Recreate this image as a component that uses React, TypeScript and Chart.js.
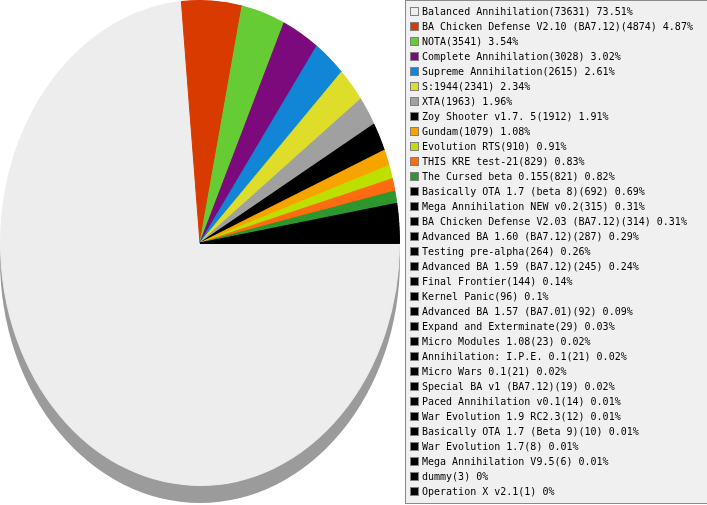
import React, { useEffect, useRef } from "react";
import { Chart, registerables } from "chart.js";

Chart.register(...registerables);

const labels: string[] = [
  "Balanced Annihilation",
  "BA Chicken Defense V2.10 (BA7.12)",
  "NOTA",
  "Complete Annihilation",
  "Supreme Annihilation",
  "S:1944",
  "XTA",
  "Zoy Shooter v1.7. 5",
  "Gundam",
  "Evolution RTS",
  "THIS KRE test-21",
  "The Cursed beta 0.155",
  "Basically OTA 1.7 (beta 8)",
  "Mega Annihilation NEW v0.2",
  "BA Chicken Defense V2.03 (BA7.12)",
  "Advanced BA 1.60 (BA7.12)",
  "Testing pre-alpha",
  "Advanced BA 1.59 (BA7.12)",
  "Final Frontier",
  "Kernel Panic",
  "Advanced BA 1.57 (BA7.01)",
  "Expand and Exterminate",
  "Micro Modules 1.08",
  "Annihilation: I.P.E. 0.1",
  "Micro Wars 0.1",
  "Special BA v1 (BA7.12)",
  "Paced Annihilation v0.1",
  "War Evolution 1.9 RC2.3",
  "Basically OTA 1.7 (Beta 9)",
  "War Evolution 1.7",
  "Mega Annihilation V9.5",
  "dummy",
  "Operation X v2.1",
];

const values: number[] = [
  73631, 4874, 3541, 3028, 2615, 2341, 1963, 1912, 1079, 910, 829, 821, 692,
  315, 314, 287, 264, 245, 144, 96, 92, 29, 23, 21, 21, 19, 14, 12, 10, 8, 6,
  3, 1,
];

const percents: string[] = [
  "73.51", "4.87", "3.54", "3.02", "2.61", "2.34", "1.96", "1.91", "1.08",
  "0.91", "0.83", "0.82", "0.69", "0.31", "0.31", "0.29", "0.26", "0.24",
  "0.14", "0.1", "0.09", "0.03", "0.02", "0.02", "0.02", "0.02", "0.01",
  "0.01", "0.01", "0.01", "0.01", "0", "0",
];

const colors: string[] = [
  "#ededed", "#d93a00", "#66cc33", "#7d0a7d", "#1185d6", "#dede2a",
  "#a0a0a0", "#000000", "#f7a300", "#bde000", "#ff6b11", "#2d962d",
  "#000000", "#000000", "#000000", "#000000", "#000000", "#000000",
  "#000000", "#000000", "#000000", "#000000", "#000000", "#000000",
  "#000000", "#000000", "#000000", "#000000", "#000000", "#000000",
  "#000000", "#000000", "#000000",
];

const W = 707;
const H = 505;

export default function App() {
  const ref = useRef<HTMLCanvasElement | null>(null);

  useEffect(() => {
    document.body.style.margin = "0";
    const canvas = ref.current;
    if (!canvas) return;

    const SY = 243 / 200;
    const CY = 243;
    const SHADOW = 14;

    const ellipsePlugin = {
      id: "ellipse3d",
      beforeDatasetsDraw(chart: any) {
        const ctx = chart.ctx as CanvasRenderingContext2D;
        const meta = chart.getDatasetMeta(0);
        const arc = meta.data[0] as any;
        const cx = arc.x;
        const cy = arc.y;
        const r = arc.outerRadius + 0.5;
        ctx.save();
        ctx.translate(0, CY);
        ctx.scale(1, SY);
        ctx.translate(0, -cy);
        ctx.beginPath();
        ctx.arc(cx, cy + SHADOW, r, 0, Math.PI * 2);
        ctx.fillStyle = "#9b9b9b";
        ctx.fill();
      },
      afterDatasetsDraw(chart: any) {
        chart.ctx.restore();
      },
      afterDraw(chart: any) {
        const ctx = chart.ctx as CanvasRenderingContext2D;
        const lbls = chart.data.labels as string[];
        const ds = chart.data.datasets[0];
        ctx.save();
        ctx.fillStyle = "#f0f0f0";
        ctx.fillRect(405.5, 0.5, 310, 503);
        ctx.strokeStyle = "#8a8a8a";
        ctx.lineWidth = 1;
        ctx.strokeRect(405.5, 0.5, 310, 503);
        ctx.font = "10px 'DejaVu Sans Mono', monospace";
        ctx.textBaseline = "middle";
        ctx.textAlign = "left";
        lbls.forEach((l, i) => {
          const cy = 12 + 15 * i;
          ctx.fillStyle = ds.backgroundColor[i];
          ctx.fillRect(410.5, cy - 4.5, 8, 8);
          ctx.strokeStyle = "#808080";
          ctx.strokeRect(410.5, cy - 4.5, 8, 8);
          ctx.fillStyle = "#000000";
          ctx.fillText(`${l}(${ds.data[i]}) ${percents[i]}%`, 422, cy + 0.5);
        });
        ctx.restore();
      },
    };

    const chart = new Chart(canvas, {
      type: "pie",
      data: {
        labels,
        datasets: [
          {
            data: values,
            backgroundColor: colors,
            borderColor: colors,
            borderWidth: 1,
          },
        ],
      },
      options: {
        responsive: false,
        animation: false,
        rotation: 90,
        layout: { padding: { left: 0, top: 0, right: 307, bottom: 105 } },
        plugins: {
          legend: { display: false },
          tooltip: { enabled: false },
        },
      },
      plugins: [ellipsePlugin],
    });

    return () => chart.destroy();
  }, []);

  return (
    <div style={{ position: "relative", width: W, height: H, background: "#ffffff" }}>
      <canvas ref={ref} width={W} height={H} style={{ display: "block", width: W, height: H }} />
    </div>
  );
}
